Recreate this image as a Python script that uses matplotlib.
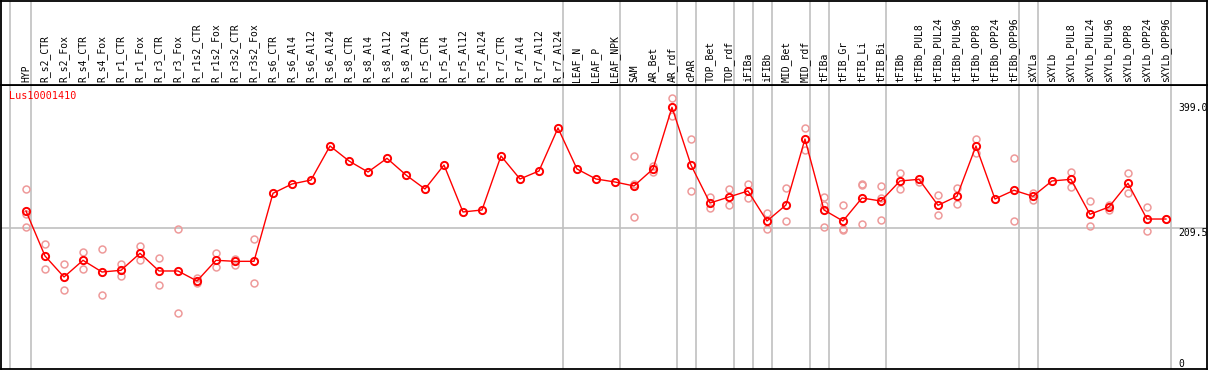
import matplotlib
matplotlib.use("Agg")
import matplotlib.pyplot as plt

# column names (left to right)
samples = ["HYP", "R_s2_CTR", "R_s2_Fox", "R_s4_CTR", "R_s4_Fox", "R_r1_CTR", "R_r1_Fox",
           "R_r3_CTR", "R_r3_Fox", "R_r1s2_CTR", "R_r1s2_Fox", "R_r3s2_CTR", "R_r3s2_Fox",
           "R_s6_CTR", "R_s6_Al4", "R_s6_Al12", "R_s6_Al24", "R_s8_CTR", "R_s8_Al4",
           "R_s8_Al12", "R_s8_Al24", "R_r5_CTR", "R_r5_Al4", "R_r5_Al12", "R_r5_Al24",
           "R_r7_CTR", "R_r7_Al4", "R_r7_Al12", "R_r7_Al24", "LEAF_N", "LEAF_P", "LEAF_NPK",
           "SAM", "AR_Bet", "AR_rdf", "cPAR", "TOP_Bet", "TOP_rdf", "iFIBa", "iFIBb",
           "MID_Bet", "MID_rdf", "tFIBa", "tFIB_Gr", "tFIB_Li", "tFIB_Bi", "tFIBb",
           "tFIBb_PUL8", "tFIBb_PUL24", "tFIBb_PUL96", "tFIBb_OPP8", "tFIBb_OPP24",
           "tFIBb_OPP96", "sXYLa", "sXYLb", "sXYLb_PUL8", "sXYLb_PUL24", "sXYLb_PUL96",
           "sXYLb_OPP8", "sXYLb_OPP24", "sXYLb_OPP96"]

# mean expression per column
means = [234.3, 168.6, 137.9, 162.3, 145.2, 147.7, 172.5, 146.7, 146.7, 132.1, 162.3,
         160.8, 160.8, 260.2, 273.8, 279.6, 329.3, 307.4, 291.3, 311.3, 286.9, 266.5,
         301.5, 232.9, 235.8, 314.7, 281.1, 292.8, 355.6, 295.7, 281.1, 276.7, 270.9,
         295.7, 385.8, 301.5, 246.0, 254.8, 263.6, 219.7, 243.1, 339.5, 235.8, 219.7,
         253.3, 248.9, 278.2, 280.6, 242.7, 255.8, 329.3, 251.9, 264.6, 255.8, 278.2,
         280.6, 229.5, 240.2, 274.8, 222.6, 222.6]

# replicate values per column (empty where none are drawn)
reps = [[266.5, 230.0, 211.0], [186.1, 149.2], [156.9, 118.9], [174.0, 149.2],
        [178.4, 111.6], [156.9, 139.8], [183.2, 162.3], [165.7, 126.2], [207.6, 84.9],
        [136.0, 128.7], [173.0, 152.5], [163.8, 155.0], [193.4, 129.1],
        [], [], [], [], [], [], [], [], [], [], [], [], [], [], [], [], [], [], [],
        [314.7, 273.8, 225.6], [300.1, 291.3], [399.0, 372.7], [339.5, 263.6],
        [254.8, 238.3], [266.5, 243.1], [273.8, 253.3], [231.4, 207.6], [267.9, 219.7],
        [355.6, 323.5], [254.8, 243.1, 211.0], [243.1, 208.0, 206.6],
        [273.3, 271.9, 215.3], [270.4, 253.3, 221.2], [289.9, 266.5], [276.7],
        [257.3, 228.1], [267.9, 244.1], [339.5, 318.6], [], [311.3, 219.7],
        [260.2, 250.4], [], [291.3, 269.8], [248.9, 212.0], [243.5, 235.8],
        [289.9, 260.2], [240.2, 205.1], [222.6]]

# columns after which a separator line is drawn
group_ends = [0, 28, 31, 34, 35, 37, 38, 39, 41, 42, 45, 52, 53, 60]

W, H = 1209, 370
fig = plt.figure(figsize=(W / 100, H / 100), dpi=100)
fig.patch.set_facecolor("white")

ax = fig.add_axes([1 / W, 1 / H, 1206 / W, 284 / H])
hd = fig.add_axes([1 / W, 285 / H, 1206 / W, 84.5 / H], sharex=ax)

xs = list(range(len(samples)))
ax.set_xlim(-1.316, 62.16)
ax.set_ylim(3.5, 418.4)
hd.set_ylim(0, 1)

grey = "#c0c0c0"
seps = [-0.82] + [g + 0.25 for g in group_ends]
for a in (ax, hd):
    for s in seps:
        a.axvline(s, color=grey, lw=1.2, zorder=1)
    a.set_xticks([])
    a.set_yticks([])
    for sp in a.spines.values():
        sp.set_color("black")
        sp.set_linewidth(1.3)

ax.axhline(209.5, color=grey, lw=1.2, zorder=1)

# replicate points
for i, r in enumerate(reps):
    if r:
        ax.plot([i] * len(r), r, ls="none", marker="o", ms=5, mfc="none",
                mec="#ee9a9a", mew=1.1, zorder=2)

ax.plot(xs, means, color="red", lw=1, marker="o", ms=5.2, mfc="none",
        mec="red", mew=1.4, zorder=3)

mono = "DejaVu Sans Mono"
for i, name in enumerate(samples):
    hd.text(i, 0.035, name, rotation=90, ha="center", va="bottom",
            fontsize=7, family=mono, color="black")

ax.text(0.0069, 0.979, "Lus10001410", transform=ax.transAxes, ha="left", va="top",
        fontsize=7.3, family=mono, color="red")

for lab, yf in [("399.0", 0.9356), ("209.5", 0.4954), ("0", 0.0363)]:
    ax.text(0.976, yf, lab, transform=ax.transAxes, ha="left", va="top",
            fontsize=7, family=mono, color="black", clip_on=True)

fig.savefig("out.png", dpi=100)
